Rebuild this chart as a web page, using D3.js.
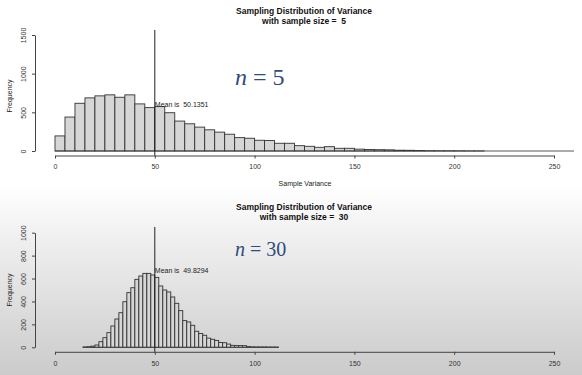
<!DOCTYPE html>
<html>
<head>
<meta charset="utf-8">
<script src="https://cdn.jsdelivr.net/npm/d3@7"></script>
<style>
  body { margin: 0; background: #fff; }
  #chart { width: 582px; height: 375px; }
  .axis text { font-family: "Liberation Sans", Arial, sans-serif; font-size: 7px; fill: #333; }
  .axis path, .axis line { stroke: #444; }
  .title { font-family: "Liberation Sans", Arial, sans-serif; font-size: 8.5px; font-weight: bold; fill: #111; text-anchor: middle; }
  .small { font-family: "Liberation Sans", Arial, sans-serif; font-size: 7px; fill: #222; white-space: pre; }
  .big { font-family: "Liberation Serif", "DejaVu Serif", serif; fill: #2f4b7c; }
</style>
</head>
<body>
<div id="chart"></div>
<script>
// sample size 5: bins of width 5 starting at 0
const start5 = 0, width5 = 5;
const counts5 = [195,439,617,687,713,726,695,726,609,561,574,495,387,352,309,274,244,217,173,165,
                 139,135,100,100,69,61,48,56,35,35,24,20,17,15,10,9,7,4,3,3,2,1,1];
const mean5 = 50.1351;

// sample size 30: bins of width 2 starting at 14
const start30 = 14, width30 = 2;
const counts30 = [3,5,10,20,49,84,128,186,247,302,398,477,520,593,622,645,645,631,610,535,
                  500,483,439,384,320,233,221,192,140,120,105,80,70,60,42,40,28,17,15,15,
                  14,6,4,3,3,3,2,2,2];
const mean30 = 49.8294;

const xTicks = [0,50,100,150,200,250];
const yTicks5 = [0,500,1000,1500];
const yTicks30 = [0,200,400,600,800,1000];

const width = 582;
const height = 375;

const svg = d3.select("#chart")
    .append("svg")
    .attr("width", width)
    .attr("height", height);

// grey slide background behind the second plot
const grad = svg.append("defs").append("linearGradient")
    .attr("id","bg").attr("x1",0).attr("y1",0).attr("x2",0).attr("y2",1);
grad.append("stop").attr("offset","0%").attr("stop-color","#ffffff");
grad.append("stop").attr("offset","25%").attr("stop-color","#f1f1f1");
grad.append("stop").attr("offset","100%").attr("stop-color","#cbcbcb");
svg.append("rect").attr("x",0).attr("y",186).attr("width",width).attr("height",height-186)
    .attr("fill","url(#bg)");

function drawPanel(p) {
    const g = svg.append("g");

    const xScale = d3.scaleLinear().domain([0,250]).range([55,554]);
    const yScale = d3.scaleLinear().domain([0,p.yMax]).range([p.base, p.yTop]);

    const bins = p.counts.map(function(c, i) {
        return {x0: p.start + i*p.binWidth, x1: p.start + (i+1)*p.binWidth, n: c};
    });

    g.selectAll("rect.bar")
        .data(bins)
        .enter()
        .append("rect")
            .attr("class","bar")
            .attr("x", function(d) { return xScale(d.x0); })
            .attr("y", function(d) { return yScale(d.n); })
            .attr("width", function(d) { return xScale(d.x1) - xScale(d.x0); })
            .attr("height", function(d) { return yScale(0) - yScale(d.n); })
            .attr("fill", "#d6d6d6")
            .attr("stroke", "#333")
            .attr("stroke-width", 0.9);

    // baseline
    g.append("line")
        .attr("x1", xScale(p.start)).attr("x2", xScale(p.lineEnd))
        .attr("y1", yScale(0)).attr("y2", yScale(0))
        .attr("stroke","#444").attr("stroke-width",0.9);

    g.append("g")
        .attr("class","axis")
        .attr("transform", `translate(0,${p.base+4.5})`)
        .call(d3.axisBottom(xScale).tickValues(xTicks).tickSize(3).tickSizeOuter(0).tickPadding(6));

    const yAxis = g.append("g")
        .attr("class","axis")
        .attr("transform", `translate(35,0)`)
        .call(d3.axisLeft(yScale).tickValues(p.yTicks).tickFormat(d3.format("d"))
            .tickSize(3).tickSizeOuter(0));
    // R draws the y labels parallel to the axis
    yAxis.selectAll(".tick text")
        .attr("transform", "rotate(-90)")
        .attr("x", 0)
        .attr("y", -9)
        .attr("dy", 0)
        .style("text-anchor","middle");

    // mean line
    g.append("line")
        .attr("x1", xScale(50)).attr("x2", xScale(50))
        .attr("y1", p.lineTop).attr("y2", p.base+4.5)
        .attr("stroke","#222").attr("stroke-width",1);

    g.append("text")
        .attr("class","small")
        .attr("x", xScale(50))
        .attr("y", p.meanY)
        .text("Mean is  " + p.mean);

    g.append("text").attr("class","title").attr("x",304).attr("y",p.titleY).text("Sampling Distribution of Variance");
    g.append("text").attr("class","title").attr("x",304).attr("y",p.titleY+10).style("white-space","pre")
        .text("with sample size =  " + p.n);

    g.append("text")
        .attr("class","small")
        .attr("transform","rotate(-90)")
        .attr("x", -p.freqY)
        .attr("y", 12)
        .style("text-anchor","middle")
        .text("Frequency");

    const big = g.append("text").attr("class","big")
        .attr("x", 235).attr("y", p.bigY)
        .style("font-size", p.bigSize + "px");
    big.append("tspan").style("font-style","italic").text("n");
    big.append("tspan").text(" = " + p.n);

    if (p.xLabel) {
        g.append("text").attr("class","small").attr("x",305).attr("y",186)
            .style("text-anchor","middle").text("Sample Variance");
    }
}

drawPanel({counts: counts5, start: start5, binWidth: width5, mean: mean5, n: 5,
    yMax: 1500, base: 151, yTop: 35, yTicks: yTicks5, lineTop: 30, meanY: 107,
    titleY: 14, freqY: 96, bigY: 85, bigSize: 24, lineEnd: 260, xLabel: true});

drawPanel({counts: counts30, start: start30, binWidth: width30, mean: mean30, n: 30,
    yMax: 1000, base: 347.3, yTop: 232.7, yTicks: yTicks30, lineTop: 227, meanY: 273,
    titleY: 210, freqY: 290, bigY: 256, bigSize: 20, lineEnd: 112, xLabel: false});
</script>
</body>
</html>
